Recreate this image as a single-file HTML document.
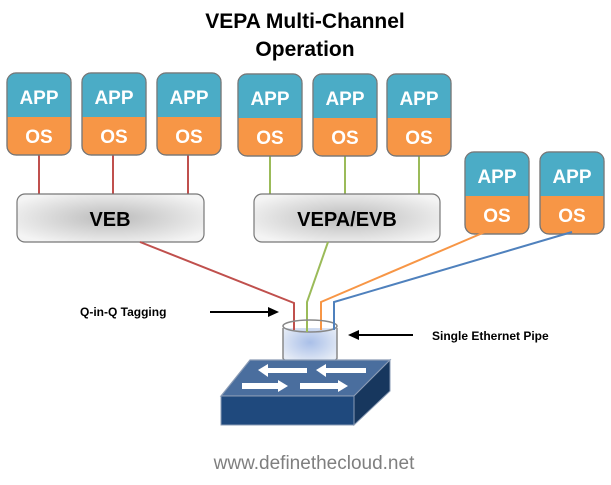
<!DOCTYPE html><html><head><style>body{margin:0;background:#fff}svg text{font-family:"Liberation Sans",sans-serif}</style></head><body>
<svg width="611" height="480" viewBox="0 0 611 480" xmlns="http://www.w3.org/2000/svg">
<defs>
<radialGradient id="g" cx="50%" cy="50%" r="60%"><stop offset="0" stop-color="#bbb"/><stop offset="1" stop-color="#f4f4f4"/></radialGradient>
<radialGradient id="c" cx="50%" cy="40%" r="60%"><stop offset="0" stop-color="#a9bfe8"/><stop offset="1" stop-color="#e6ecf6"/></radialGradient>
<g id="vm"><rect x="0" y="0" width="64" height="82" rx="9" fill="#f79646" stroke="#777" stroke-width="1.2"/><path d="M0,44 V9 A9,9 0 0 1 9,0 H55 A9,9 0 0 1 64,9 V44 Z" fill="#4bacc6"/><rect x="0" y="0" width="64" height="82" rx="9" fill="none" stroke="#777" stroke-width="1.2"/><text x="32" y="31" text-anchor="middle" font-size="19" font-weight="bold" fill="#fff">APP</text><text x="32" y="70" text-anchor="middle" font-size="19" font-weight="bold" fill="#fff">OS</text></g>
</defs>
<text x="305" y="28" text-anchor="middle" font-size="21" font-weight="bold">VEPA Multi-Channel</text>
<text x="305" y="56" text-anchor="middle" font-size="21" font-weight="bold">Operation</text>
<g stroke="#c0504d" stroke-width="2"><line x1="39" y1="155" x2="39" y2="195"/><line x1="113" y1="155" x2="113" y2="195"/><line x1="188" y1="155" x2="188" y2="195"/></g>
<g stroke="#9bbb59" stroke-width="2"><line x1="270" y1="155" x2="270" y2="195"/><line x1="345" y1="155" x2="345" y2="195"/><line x1="419" y1="155" x2="419" y2="195"/></g>
<use href="#vm" x="7" y="73"/><use href="#vm" x="82" y="73"/><use href="#vm" x="157" y="73"/>
<use href="#vm" x="238" y="74"/><use href="#vm" x="313" y="74"/><use href="#vm" x="387" y="74"/>
<use href="#vm" x="465" y="152"/><use href="#vm" x="540" y="152"/>
<rect x="17" y="194" width="187" height="48" rx="8" fill="url(#g)" stroke="#777" stroke-width="1.2"/>
<text x="110" y="226" text-anchor="middle" font-size="20" font-weight="bold">VEB</text>
<rect x="254" y="194" width="186" height="48" rx="8" fill="url(#g)" stroke="#777" stroke-width="1.2"/>
<text x="347" y="226" text-anchor="middle" font-size="20" font-weight="bold">VEPA/EVB</text>
<g fill="none" stroke-width="2"><polyline points="140,242 294,303 294,330" stroke="#c0504d"/><polyline points="328,242 307,302 307,332" stroke="#9bbb59"/><polyline points="485,232 321,302 321,330" stroke="#f79646"/><polyline points="572,232 334,302 334,330" stroke="#4f81bd"/></g>
<path d="M283,328 V358 A27,6 0 0 0 337,358 V328" fill="url(#c)" stroke="#888" stroke-width="1.5"/>
<ellipse cx="310" cy="326" rx="27" ry="6" fill="none" stroke="#888" stroke-width="1.5"/>
<g stroke-width="2"><line x1="294" y1="322" x2="294" y2="330" stroke="#c0504d"/><line x1="307" y1="322" x2="307" y2="332" stroke="#9bbb59"/><line x1="321" y1="322" x2="321" y2="330" stroke="#f79646"/><line x1="334" y1="322" x2="334" y2="330" stroke="#4f81bd"/></g>
<polygon points="221,396 250,360 390,360 354,396" fill="#4a6e9e" stroke="#8a9bb5" stroke-width="1.2"/>
<rect x="221" y="396" width="133" height="29" fill="#1f497d" stroke="#8a9bb5" stroke-width="1"/>
<polygon points="354,396 390,360 390,391 354,425" fill="#17375e" stroke="#8a9bb5" stroke-width="1"/>
<g fill="#fff"><polygon points="258,370 268,364 268,368 307,368 307,373 268,373 268,377"/><polygon points="316,370 326,364 326,368 366,368 366,373 326,373 326,377"/><polygon points="288,386 278,380 278,383 242,383 242,389 278,389 278,392"/><polygon points="348,386 338,380 338,383 300,383 300,389 338,389 338,392"/></g>
<text x="80" y="316" font-size="12" font-weight="bold">Q-in-Q Tagging</text>
<line x1="210" y1="312" x2="270" y2="312" stroke="#000" stroke-width="2"/><polygon points="279,312 268,307 268,317"/>
<text x="432" y="340" font-size="12" font-weight="bold">Single Ethernet Pipe</text>
<line x1="413" y1="335" x2="357" y2="335" stroke="#000" stroke-width="2"/><polygon points="348,335 359,330 359,340"/>
<text x="314" y="469" text-anchor="middle" font-size="19" fill="#7f7f7f">www.definethecloud.net</text>
</svg></body></html>
